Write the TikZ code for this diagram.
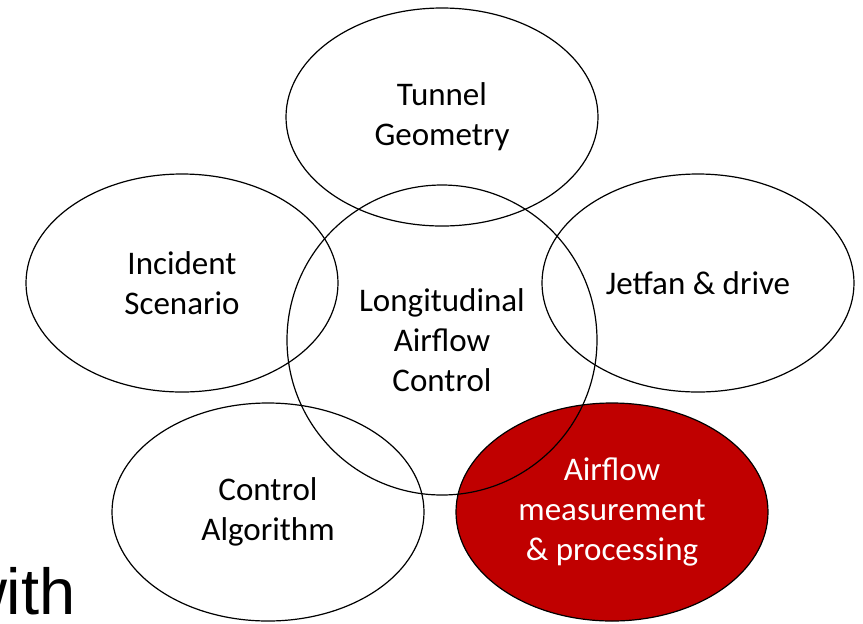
\documentclass[tikz,border=0pt]{standalone}
\usepackage{fontspec}
\setmainfont{Carlito}
\newfontfamily\slidefont{Liberation Sans}
\usetikzlibrary{shapes.geometric}
\definecolor{hotred}{HTML}{C00000}

\begin{document}
\begin{tikzpicture}[x=0.5pt, y=-0.5pt,
      every node/.style={font=\fontsize{16.5}{20}\selectfont, align=center, inner sep=0pt},
      topic/.style={ellipse, draw, line width=0.6pt, minimum width=156pt, minimum height=109pt},
      hub/.style={circle, draw, line width=0.6pt, minimum size=155pt}]
  \useasboundingbox (0,0) rectangle (863,623);
  \node [topic, fill=hotred, text=white] (meas) at (612,512) {Airflow\\measurement\\\& processing};
  \node [topic] (geom) at (442,117) {Tunnel\\Geometry};
  \node [topic] (incident) at (182,283) {Incident\\Scenario};
  \node [topic] (jetfan) at (698,283) {Jetfan \& drive};
  \node [topic] (algo) at (268,512) {Control\\Algorithm};
  \node [hub] (airflow) at (442,340) {Longitudinal\\Airflow\\Control};
  \begin{scope}
    \clip (0,0) rectangle (863,623);
    \node [font=\slidefont\fontsize{32.5}{36}\selectfont, anchor=base east] (with) at (76,614) {with};
  \end{scope}
\end{tikzpicture}
\end{document}
